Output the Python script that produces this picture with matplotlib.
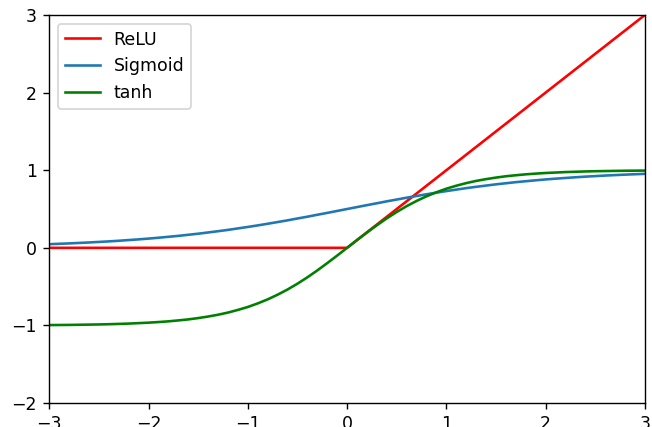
import matplotlib
matplotlib.use('Agg')
import matplotlib.pyplot as plt

# sample points for each activation curve
x_relu = [-3.0, 0.0, 3.0]
y_relu = [0.0, 0.0, 3.0]

x_smooth = [-3.0, -2.9, -2.8, -2.7, -2.6, -2.5, -2.4, -2.3, -2.2, -2.1,
            -2.0, -1.9, -1.8, -1.7, -1.6, -1.5, -1.4, -1.3, -1.2, -1.1,
            -1.0, -0.9, -0.8, -0.7, -0.6, -0.5, -0.4, -0.3, -0.2, -0.1,
            0.0, 0.1, 0.2, 0.3, 0.4, 0.5, 0.6, 0.7, 0.8, 0.9,
            1.0, 1.1, 1.2, 1.3, 1.4, 1.5, 1.6, 1.7, 1.8, 1.9,
            2.0, 2.1, 2.2, 2.3, 2.4, 2.5, 2.6, 2.7, 2.8, 2.9, 3.0]
y_sigmoid = [0.047, 0.052, 0.057, 0.063, 0.069, 0.076, 0.083, 0.091, 0.100, 0.109,
             0.119, 0.130, 0.142, 0.154, 0.168, 0.182, 0.198, 0.214, 0.231, 0.250,
             0.269, 0.289, 0.310, 0.332, 0.354, 0.378, 0.401, 0.426, 0.450, 0.475,
             0.500, 0.525, 0.550, 0.574, 0.599, 0.622, 0.646, 0.668, 0.690, 0.711,
             0.731, 0.750, 0.769, 0.786, 0.802, 0.818, 0.832, 0.846, 0.858, 0.870,
             0.881, 0.891, 0.900, 0.909, 0.917, 0.924, 0.931, 0.937, 0.943, 0.948, 0.953]
y_tanh = [-0.995, -0.994, -0.993, -0.991, -0.989, -0.987, -0.984, -0.980, -0.976, -0.970,
          -0.964, -0.956, -0.947, -0.935, -0.922, -0.905, -0.885, -0.862, -0.834, -0.800,
          -0.762, -0.716, -0.664, -0.604, -0.537, -0.462, -0.380, -0.291, -0.197, -0.100,
          0.0, 0.100, 0.197, 0.291, 0.380, 0.462, 0.537, 0.604, 0.664, 0.716,
          0.762, 0.800, 0.834, 0.862, 0.885, 0.905, 0.922, 0.935, 0.947, 0.956,
          0.964, 0.970, 0.976, 0.980, 0.984, 0.987, 0.989, 0.991, 0.993, 0.994, 0.995]

fig = plt.figure(figsize=(652 / 125, 427 / 125), dpi=125)
ax = fig.add_axes([0.0755, 0.056, 0.9137, 0.909])

ax.plot(x_relu, y_relu, color='r', label='ReLU')
ax.plot(x_smooth, y_sigmoid, color='#1f77b4', label='Sigmoid')
ax.plot(x_smooth, y_tanh, color='g', label='tanh')

ax.set_xlim(-3, 3)
ax.set_ylim(-2, 3)
ax.set_xticks([-3, -2, -1, 0, 1, 2, 3])
ax.set_yticks([-2, -1, 0, 1, 2, 3])
ax.legend(loc='upper left')

plt.savefig('out.png', dpi=125)
